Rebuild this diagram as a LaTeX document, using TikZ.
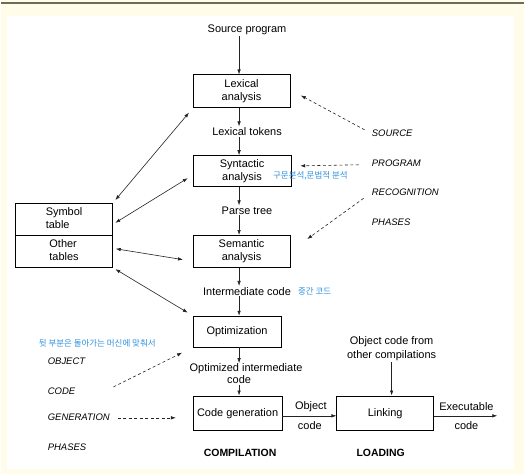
\documentclass[tikz,border=0pt]{standalone}
\usepackage{fontspec}
\setmainfont{Liberation Sans}
\newfontfamily\krfont{Noto Sans CJK KR}
\usetikzlibrary{arrows.meta}
\definecolor{cream}{RGB}{255,253,234}
\definecolor{rule}{RGB}{110,108,88}
\definecolor{note}{RGB}{45,145,225}
\definecolor{ink}{RGB}{35,35,35}
\begin{document}
\begin{tikzpicture}[x=1pt,y=-1pt,
  box/.style={draw=black,line width=0.7pt,inner sep=0pt,align=center,
    font=\fontsize{11}{12.5}\selectfont},
  lbl/.style={inner sep=1pt,font=\fontsize{11}{12.5}\selectfont},
  phase/.style={anchor=west,inner sep=0pt,font=\fontsize{9.5}{11}\selectfont\itshape},
  stage/.style={inner sep=0pt,font=\fontsize{10.5}{12}\selectfont\bfseries},
  kr/.style={anchor=west,inner sep=0pt,text=note,font=\fontsize{8.5}{10}\selectfont\krfont},
  arr/.style={draw=ink,line width=0.6pt,-{Latex[length=5pt,width=3.5pt]}},
  biarr/.style={draw=ink,line width=0.6pt,{Latex[length=5pt,width=3.5pt]}-{Latex[length=5pt,width=3.5pt]}},
  dasharr/.style={draw=ink,line width=0.6pt,dash pattern=on 3pt off 2.5pt,-{Latex[length=5pt,width=3.5pt]}}]

% page background, top rule and white panel
\fill[cream] (0,0) rectangle (525,475);
\draw[rule,line width=1.5pt] (0,3) -- (525,3);
\fill[white] (6,16) rectangle (515,470);
\useasboundingbox (0,0) rectangle (525,475);

\coordinate (spine) at (239,0);

% compilation phases
\node[lbl] (src) at (247,30) {Source program};
\node[box,minimum width=97pt,minimum height=33pt] (lex) at (241.5,91.5) {Lexical\\analysis};
\node[lbl] (tok) at (247,132) {Lexical tokens};
\node[box,minimum width=98pt,minimum height=31pt] (syn) at (242,171.5) {Syntactic\\analysis};
\node[lbl] (ptree) at (247,211) {Parse tree};
\node[box,minimum width=97pt,minimum height=32pt] (sem) at (241.5,252) {Semantic\\analysis};
\node[lbl] (icode) at (247,292) {Intermediate code};
\node[box,minimum width=88pt,minimum height=31pt] (opt) at (237,332.5) {Optimization};
\node[lbl,inner sep=0.5pt] (oi1) at (246,370) {Optimized intermediate};
\node[lbl,inner sep=0.5pt] (oi2) at (239,381) {code};
\node[box,minimum width=89pt,minimum height=35pt] (cg) at (237.5,414.5) {Code generation};

\draw[arr] (src.south -| spine) -- (lex.north -| spine);
\draw[arr] (lex.south -| spine) -- (tok.north -| spine);
\draw[arr] (tok.south -| spine) -- (syn.north -| spine);
\draw[arr] (syn.south -| spine) -- (ptree.north -| spine);
\draw[arr] (ptree.south -| spine) -- (sem.north -| spine);
\draw[arr] (sem.south -| spine) -- (icode.north -| spine);
\draw[arr] (icode.south -| spine) -- (opt.north -| spine);
\draw[arr] (opt.south -| spine) -- (oi1.north -| spine);
\draw[arr] (oi2.south -| spine) -- (cg.north -| spine);

% loading
\node[box,minimum width=97pt,minimum height=35pt] (link) at (385.5,414.5) {Linking};
\node[lbl,align=center,font=\fontsize{11}{14}\selectfont] (ocf) at (392,350) {Object code from\\other compilations};
\node[lbl] (obj1) at (311,408) {Object};
\node[lbl] (obj2) at (310,427) {code};
\node[lbl] (exe1) at (467,408) {Executable};
\node[lbl] (exe2) at (467,427) {code};
\coordinate (exeend) at (498,417);

\draw[arr] ([yshift=-2.5pt]cg.east) -- ([yshift=-2.5pt]link.west);
\draw[arr] (ocf.south) -- (ocf.south |- link.north);
\draw[arr] ([yshift=-2.5pt]link.east) -- (exeend);

\node[stage] (comp) at (240,454) {COMPILATION};
\node[stage] (load) at (381,454) {LOADING};

% tables
\node[box,minimum width=97pt,minimum height=32pt] (sym) at (63.5,220) {\begin{tabular}{@{}l@{}}Symbol\\table\end{tabular}};
\node[box,minimum width=97pt,minimum height=32pt] (oth) at (63.5,252) {\begin{tabular}{@{}l@{}}Other\\tables\end{tabular}};

\draw[biarr,shorten <=4pt,shorten >=6pt] (sym.north east) -- (lex.south west);
\draw[biarr,shorten <=3pt,shorten >=6pt] ([yshift=-5pt]sym.east) -- ([yshift=-4pt]syn.west);
\draw[biarr,shorten <=3pt,shorten >=10pt] ([yshift=3pt]oth.east) -- ([yshift=-10pt]sem.west);
\draw[biarr,shorten <=3pt,shorten >=6pt] (oth.south east) -- (opt.north west);

% recognition phases
\node[phase] (so) at (372,134) {SOURCE};
\node[phase] (pg) at (372,164) {PROGRAM};
\node[phase] (rc) at (372,193) {RECOGNITION};
\node[phase] (ph1) at (372,223) {PHASES};

\draw[dasharr,shorten <=8pt,shorten >=12pt] (so.west) -- ([yshift=1.5pt]lex.east);
\draw[dasharr,shorten <=13pt,shorten >=9pt] ([yshift=-1pt]pg.west) -- ([yshift=5pt]syn.east);
\draw[dasharr,shorten <=10pt,shorten >=21pt] (rc.west) -- (sem.east);

% generation phases
\node[phase] (ob) at (47,362) {OBJECT};
\node[phase] (cd) at (47,392) {CODE};
\node[phase] (gn) at (47,418) {GENERATION};
\node[phase] (ph2) at (47,449) {PHASES};
\coordinate (cdtail) at (113,388);

\draw[dasharr,shorten >=12pt] (cdtail) -- (opt.south west);
\draw[dasharr,shorten <=8pt,shorten >=17pt] ([yshift=-1pt]gn.east) -- ([yshift=-1pt]gn.east -| cg.west);

% annotations
\node[kr] (k1) at (273,176) {구문분석,문법적 분석};
\node[kr] (k2) at (298,292) {중간 코드};
\node[kr] (k3) at (38,344) {뒷 부분은 돌아가는 머신에 맞춰서};
\end{tikzpicture}
\end{document}
